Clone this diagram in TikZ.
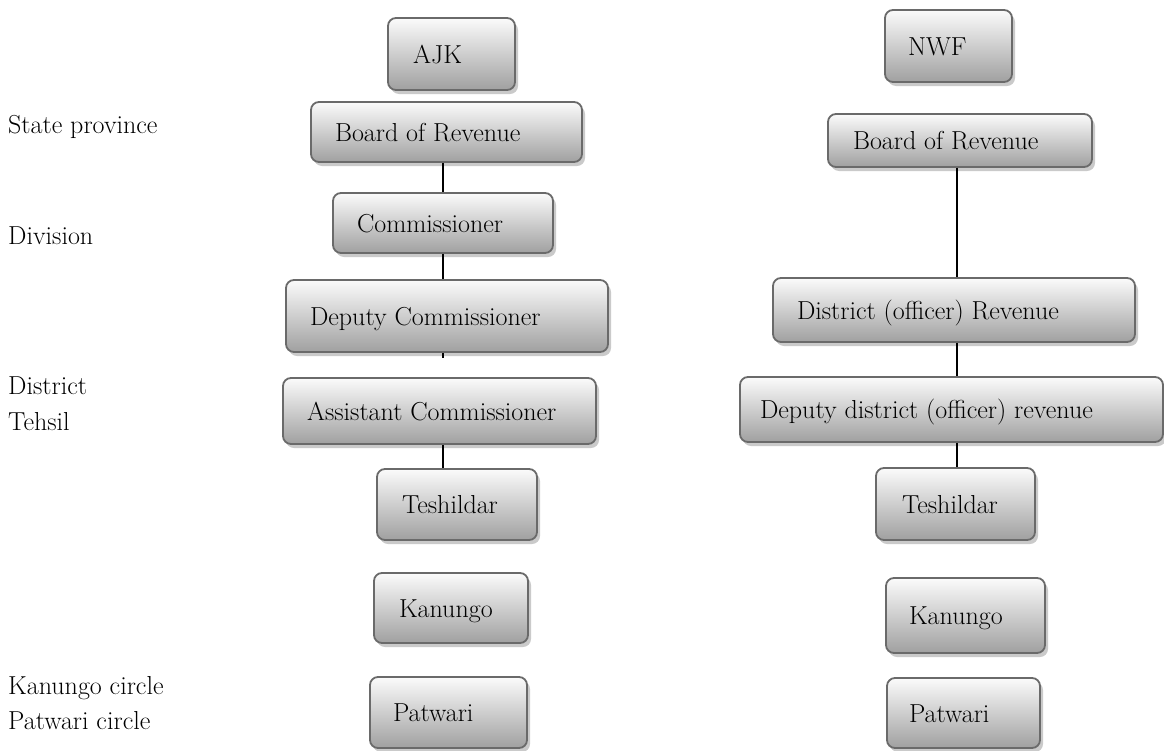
\documentclass[tikz,border=0pt]{standalone}
\usepackage{fontspec}
\usetikzlibrary{shadows}

\definecolor{boxline}{HTML}{6A6A6A}
\definecolor{boxtop}{HTML}{FBFBFB}
\definecolor{boxbot}{HTML}{A0A0A0}
\definecolor{boxshadow}{HTML}{CACACA}

\tikzset{
  orgbox/.style={
    draw=boxline, line width=1.8pt, rounded corners=8pt,
    top color=boxtop, bottom color=boxbot,
    drop shadow={shadow xshift=3pt, shadow yshift=-4pt, fill=boxshadow, opacity=1},
    inner xsep=0pt, inner ysep=0pt,
    text height=18pt, text depth=0pt,
    font=\fontsize{26}{31}\selectfont},
  lbl/.style={inner sep=0pt, anchor=base west, font=\fontsize{26}{31}\selectfont},
  link/.style={line width=1.3pt, black}
}

% \orgbox{name}{left}{top}{right}{bottom}{text start}{text}
\newcommand\orgbox[7]{%
  \node[orgbox, minimum width={(#4-#2)*1pt}, minimum height={(#5-#3)*1pt}]
    (#1) at ({(#2+#4)/2},{(#3+#5)/2})
    {\makebox[\dimexpr #4pt-#2pt\relax][l]{\hspace{\dimexpr #6pt-#2pt\relax}#7}};}

\begin{document}
\begin{tikzpicture}[x=1pt, y=-1pt]
  \useasboundingbox (0,0) rectangle (1164,750);

  % level captions
  \node[lbl] (lstate) at (8,133) {State province};
  \node[lbl] (ldiv)   at (8,244) {Division};
  \node[lbl] (ldist)  at (8,394) {District};
  \node[lbl] (lteh)   at (8,430) {Tehsil};
  \node[lbl] (lkan)   at (8,694) {Kanungo circle};
  \node[lbl] (lpat)   at (8,729) {Patwari circle};

  % AJK hierarchy
  \orgbox{ajk}{388}{18}{515}{90}{413}{AJK}
  \orgbox{borL}{311}{102}{582}{162}{335}{Board of Revenue}
  \orgbox{com}{333}{193}{553}{253}{357}{Commissioner}
  \orgbox{dcom}{286}{280}{608}{352}{310}{Deputy Commissioner}
  \orgbox{acom}{283}{378}{596}{444}{307}{Assistant Commissioner}
  \orgbox{teshL}{377}{469}{537}{540}{402}{Teshildar}
  \orgbox{kanL}{374}{573}{528}{643}{399}{Kanungo}
  \orgbox{patL}{370}{677}{527}{748}{393}{Patwari}

  % NWF hierarchy
  \orgbox{nwf}{885}{10}{1012}{82}{908}{NWF}
  \orgbox{borR}{828}{114}{1092}{167}{853}{Board of Revenue}
  \orgbox{dist}{773}{278}{1135}{342}{797}{District (officer) Revenue}
  \orgbox{ddist}{740}{377}{1163}{442}{760}{Deputy district (officer) revenue}
  \orgbox{teshR}{876}{468}{1035}{540}{902}{Teshildar}
  \orgbox{kanR}{886}{578}{1045}{653}{909}{Kanungo}
  \orgbox{patR}{887}{678}{1040}{748}{909}{Patwari}

  % connectors
  \coordinate (lx) at (443,0);
  \coordinate (rx) at (957,0);
  \coordinate (stub) at (443,358);
  \draw[link] (borL.south -| lx) -- (com.north -| lx);
  \draw[link] (com.south -| lx) -- (dcom.north -| lx);
  \draw[link] (dcom.south -| lx) -- (stub);
  \draw[link] (acom.south -| lx) -- (teshL.north -| lx);
  \draw[link] (borR.south -| rx) -- (dist.north -| rx);
  \draw[link] (dist.south -| rx) -- (ddist.north -| rx);
  \draw[link] (ddist.south -| rx) -- (teshR.north -| rx);
\end{tikzpicture}
\end{document}
